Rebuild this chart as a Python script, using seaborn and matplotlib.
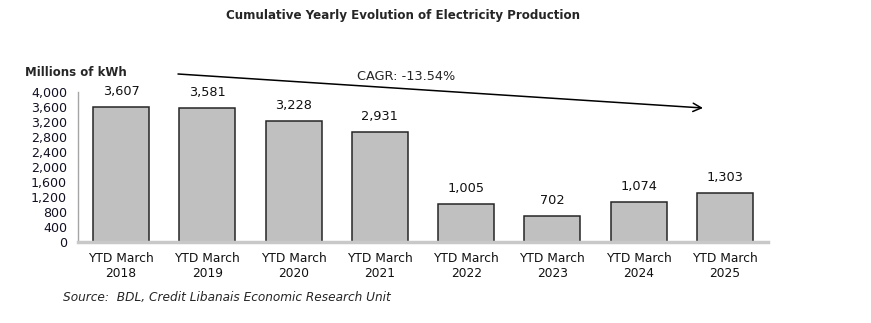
import matplotlib
matplotlib.use("Agg")
import matplotlib.pyplot as plt
import seaborn as sns
import pandas as pd

categories = ["YTD March\n2018", "YTD March\n2019", "YTD March\n2020", "YTD March\n2021",
              "YTD March\n2022", "YTD March\n2023", "YTD March\n2024", "YTD March\n2025"]
values = [3607, 3581, 3228, 2931, 1005, 702, 1074, 1303]
yticks = [0, 400, 800, 1200, 1600, 2000, 2400, 2800, 3200, 3600, 4000]

sns.set_style("white")
plt.rcParams['font.family'] = ['DejaVu Sans']

W, H = 871, 323
fig = plt.figure(figsize=(W / 100, H / 100), dpi=100)
ax = fig.add_axes([78 / W, 1 - 242 / H, (768 - 78) / W, (242 - 92) / H])

df = pd.DataFrame({"cat": categories, "val": values})
sns.barplot(data=df, x="cat", y="val", ax=ax, color="#C0C0C0", width=0.65,
            edgecolor="#262626", linewidth=1.1, saturation=1)

ax.set_ylim(0, 4000)
ax.set_xlim(-0.5, len(categories) - 0.5)
ax.set_yticks(yticks)
ax.set_yticklabels([f"{v:,}" for v in yticks], fontsize=9.1, color="#111122")
ax.tick_params(axis="x", labelsize=8.8, length=0, pad=7, colors="#111111")
ax.tick_params(axis="y", length=0, pad=8)
ax.set_xlabel("")
ax.set_ylabel("")

for s in ["top", "right"]:
    ax.spines[s].set_visible(False)
ax.spines["left"].set_color("#A6A6A6")
ax.spines["left"].set_linewidth(1.0)
ax.spines["bottom"].set_color("#C8C8C8")
ax.spines["bottom"].set_linewidth(2.5)

for i, v in enumerate(values):
    ax.annotate(f"{v:,}", (i, v), xytext=(0, 6.5), textcoords="offset points",
                ha="center", va="bottom", fontsize=9.3, color="#111111")

fig.text(403 / W, 1 - 15 / H, "Cumulative Yearly Evolution of Electricity Production",
         ha="center", va="center", fontsize=8.6, fontweight="bold")
fig.text(25 / W, 1 - 72 / H, "Millions of kWh", ha="left", va="center",
         fontsize=8.5, fontweight="bold")
fig.text(406 / W, 1 - 77 / H, "CAGR: -13.54%", ha="center", va="center", fontsize=9.3)
fig.text(63 / W, 1 - 298 / H, "Source:  BDL, Credit Libanais Economic Research Unit",
         ha="left", va="center", fontsize=8.7, style="italic")

fig.add_artist(matplotlib.patches.FancyArrowPatch(
    (178 / W, 1 - 74 / H), (703 / W, 1 - 108 / H), transform=fig.transFigure,
    arrowstyle="->,head_length=6,head_width=3", color="black", lw=1.1,
    shrinkA=0, shrinkB=0))

fig.savefig("out.png", dpi=100)
